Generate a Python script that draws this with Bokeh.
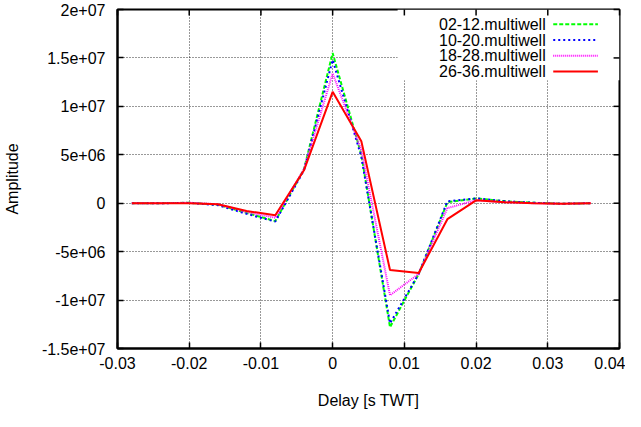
from bokeh.plotting import figure
from bokeh.models import (Range1d, FixedTicker, Label, Arrow,
                          BoxAnnotation, CustomJSTickFormatter)
from bokeh.embed import file_html
from bokeh.resources import INLINE

# ---- data -------------------------------------------------------------
delay = [-0.028, -0.024, -0.020, -0.016, -0.012, -0.008, -0.004, 0.0,
         0.004, 0.008, 0.012, 0.016, 0.020, 0.024, 0.028, 0.032, 0.036]

amp_02_12 = [0.0, 0.0, 0.05e6, -0.15e6, -1.0e6, -1.85e6, 3.5e6, 15.5e6,
             5.0e6, -12.8e6, -7.3e6, 0.1e6, 0.5e6, 0.2e6, 0.05e6, -0.05e6, 0.0]
amp_10_20 = [0.0, 0.0, 0.03e6, -0.2e6, -1.1e6, -1.9e6, 3.4e6, 14.8e6,
             4.8e6, -12.4e6, -7.3e6, 0.2e6, 0.5e6, 0.2e6, 0.05e6, -0.05e6, 0.0]
amp_18_28 = [0.0, 0.0, 0.05e6, -0.1e6, -0.9e6, -1.5e6, 3.5e6, 13.4e6,
             5.5e6, -9.5e6, -7.3e6, -0.5e6, 0.3e6, 0.1e6, 0.0, -0.05e6, 0.0]
amp_26_36 = [0.0, 0.0, 0.0, -0.1e6, -0.8e6, -1.25e6, 3.4e6, 11.5e6,
             6.4e6, -6.9e6, -7.2e6, -1.65e6, 0.3e6, 0.1e6, 0.0, -0.05e6, 0.0]

series_names = ["02-12.multiwell", "10-20.multiwell", "18-28.multiwell", "26-36.multiwell"]
series_values = [amp_02_12, amp_10_20, amp_18_28, amp_26_36]
series_colors = ["#00ff00", "#0000ff", "#ff00ff", "#ff0000"]
series_dash = ["4 2", "2 3", "1 1", "solid"]
series_width = [2, 2, 2, 2]

x_ticks = [-0.03, -0.02, -0.01, 0.0, 0.01, 0.02, 0.03, 0.04]
x_tick_labels = ["-0.03", "-0.02", "-0.01", "0", "0.01", "0.02", "0.03", "0.04"]
y_ticks = [-1.5e7, -1e7, -5e6, 0.0, 5e6, 1e7, 1.5e7, 2e7]
y_tick_labels = ["-1.5e+07", "-1e+07", "-5e+06", "0", "5e+06", "1e+07", "1.5e+07", "2e+07"]

FONT = "Liberation Sans"
FS = "16px"
X0, X1 = -0.03, 0.04
Y0, Y1 = -1.5e7, 2e7

p = figure(width=625, height=411, output_backend="svg", toolbar_location=None,
           x_range=Range1d(X0, X1), y_range=Range1d(Y0, Y1),
           min_border_left=112, min_border_right=6, min_border_top=9,
           min_border_bottom=62)
p.background_fill_color = "white"
p.border_fill_color = "white"
p.outline_line_color = "black"
p.outline_line_width = 2

fmt_code = """
let best = 0; let d = Infinity;
for (let i = 0; i < tv.length; i++) {
  const e = Math.abs(tv[i] - tick);
  if (e < d) { d = e; best = i; }
}
return tl[best];
"""

def style_axis(ax, ticks, labels):
    ax.ticker = FixedTicker(ticks=ticks)
    ax.formatter = CustomJSTickFormatter(args=dict(tv=ticks, tl=labels), code=fmt_code)
    ax.axis_line_color = "black"
    ax.axis_line_width = 2
    ax.major_tick_in = 6
    ax.major_tick_out = 0
    ax.major_tick_line_width = 1.5
    ax.major_tick_line_color = "black"
    ax.minor_tick_line_color = None
    ax.major_label_text_font = FONT
    ax.major_label_text_font_size = FS
    ax.major_label_text_color = "black"
    ax.axis_label_text_font = FONT
    ax.axis_label_text_font_size = FS
    ax.axis_label_text_font_style = "normal"
    ax.axis_label_text_color = "black"

style_axis(p.xaxis[0], x_ticks, x_tick_labels)
style_axis(p.yaxis[0], y_ticks, y_tick_labels)
p.xaxis[0].axis_label = "Delay [s TWT]"
p.yaxis[0].axis_label = "Amplitude"
p.xaxis[0].major_label_standoff = 8
p.xaxis[0].axis_label_standoff = 20
p.yaxis[0].major_label_standoff = 12
p.yaxis[0].axis_label_standoff = 18

for g in (p.xgrid[0], p.ygrid[0]):
    g.grid_line_color = "black"
    g.grid_line_alpha = 0.8
    g.grid_line_dash = "1 2"
    g.grid_line_width = 1

# ---- curves -----------------------------------------------------------
for vals, col, dash, w in zip(series_values, series_colors, series_dash, series_width):
    p.line(delay, vals, line_color=col, line_dash=dash, line_width=w)

# ---- frame helpers ------------------------------------------------------
def fx(f):
    return X0 + f * (X1 - X0)

def fy(f):
    return Y1 - f * (Y1 - Y0)

# ---- key (gnuplot style: text then sample) ------------------------------
p.add_layout(BoxAnnotation(left=fx(0.558), right=X1, bottom=fy(0.209), top=Y1,
                           fill_color="white", fill_alpha=1.0, line_color=None,
                           level="glyph"))
row_f = [0.0436, 0.0901, 0.1366, 0.1831]
for name, col, dash, w, rf in zip(series_names, series_colors, series_dash, series_width, row_f):
    p.add_layout(Label(x=fx(0.853), y=fy(rf), text=name, text_align="right",
                       text_baseline="middle", text_font=FONT, text_font_size=FS,
                       text_color="black"))
    p.add_layout(Arrow(x_start=fx(0.868), y_start=fy(rf), x_end=fx(0.957), y_end=fy(rf),
                       end=None, line_color=col, line_dash=dash, line_width=w))

# ---- mirrored inward tick marks on top and right borders ------------------
tick_fx = 6 / 507
tick_fy = 6 / 342
p.segment(x0=x_ticks, y0=[Y1] * len(x_ticks), x1=x_ticks,
          y1=[fy(tick_fy)] * len(x_ticks), line_color="black", line_width=1.5,
          level="overlay")
p.segment(x0=[X1] * len(y_ticks), y0=y_ticks, x1=[fx(1 - tick_fx)] * len(y_ticks),
          y1=y_ticks, line_color="black", line_width=1.5, level="overlay")

open("out.html", "w").write(file_html(p, INLINE))
